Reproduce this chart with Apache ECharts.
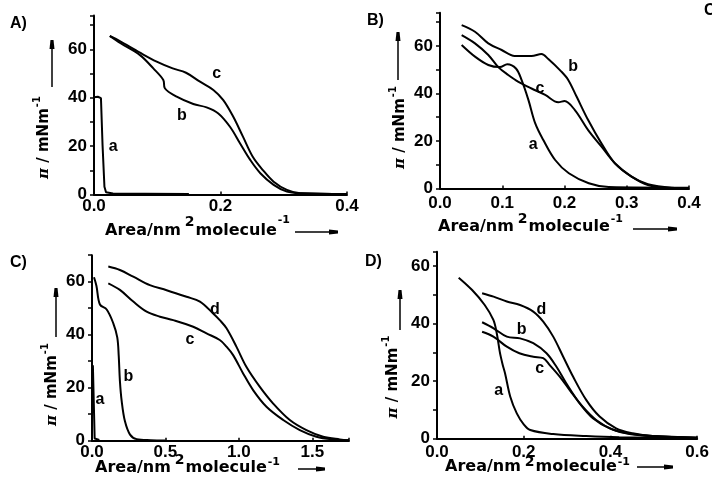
<!DOCTYPE html>
<html><head><meta charset="utf-8">
<script src="https://cdn.jsdelivr.net/npm/echarts@6/dist/echarts.min.js"></script>
<style>html,body{margin:0;padding:0;background:#fff}#c{width:712px;height:483px}</style>
</head><body><div id="c"></div>
<script>
// ---------- Panel A ----------
const A_xTickLabels = ['0.0', '0.2', '0.4'];
const A_yTickLabels = ['0', '20', '40', '60'];
const A_a = [[0.0, 40.2], [0.006, 40.4], [0.011, 39.8], [0.0135, 20.5], [0.0165, 3.2], [0.019, 0.9], [0.03, 0.4], [0.08, 0.3], [0.15, 0.2]];
const A_b = [[0.025, 65.5], [0.042, 62.5], [0.0727, 57.6], [0.0938, 52.1], [0.1096, 47.3], [0.112, 43.9], [0.1307, 40.4], [0.157, 37.4], [0.178, 36.0], [0.1966, 33.5], [0.215, 28.0], [0.231, 21.1], [0.247, 14.3], [0.263, 8.8], [0.284, 4.0], [0.305, 1.2], [0.326, 0.5], [0.4, 0.2]];
const A_c = [[0.025, 65.5], [0.0395, 63.6], [0.0727, 58.6], [0.0991, 54.9], [0.1244, 52.1], [0.1455, 50.3], [0.1676, 46.6], [0.1887, 43.2], [0.2044, 39.0], [0.22, 32.2], [0.2355, 23.9], [0.251, 15.6], [0.267, 10.1], [0.284, 5.3], [0.305, 1.9], [0.326, 0.5], [0.4, 0.2]];
const A_labels = [['a', 0.0305, 19.7], ['b', 0.139, 32.8], ['c', 0.194, 50]];

// ---------- Panel B ----------
const B_xTickLabels = ['0.0', '0.1', '0.2', '0.3', '0.4'];
const B_yTickLabels = ['0', '20', '40', '60'];
const B_a = [[0.0348, 60.4], [0.0562, 55.5], [0.0776, 52.0], [0.0963, 51.1], [0.108, 52.3], [0.122, 50.5], [0.131, 45.7], [0.142, 37.3], [0.153, 27.4], [0.166, 20.4], [0.185, 12.0], [0.207, 6.4], [0.239, 2.2], [0.271, 0.6], [0.4, 0.3]];
const B_b = [[0.0348, 68.8], [0.0562, 66.0], [0.0776, 61.1], [0.099, 58.3], [0.12, 55.8], [0.147, 55.8], [0.163, 56.6], [0.174, 54.5], [0.195, 49.2], [0.206, 45.7], [0.2194, 38.7], [0.238, 28.8], [0.2595, 18.9], [0.281, 10.6], [0.3077, 5.0], [0.334, 1.8], [0.372, 0.3], [0.4, 0.1]];
const B_c = [[0.0348, 64.6], [0.0562, 61.1], [0.0776, 56.2], [0.0936, 51.1], [0.1096, 47.8], [0.126, 44.9], [0.147, 42.1], [0.169, 39.4], [0.19, 36.3], [0.2, 36.8], [0.2167, 33.0], [0.238, 24.6], [0.2595, 17.6], [0.281, 10.6], [0.3077, 5.0], [0.334, 1.5], [0.372, 0.2], [0.4, 0.1]];
const B_labels = [['b', 0.214, 51.3], ['c', 0.1605, 42.2], ['a', 0.1498, 18.3]];

// ---------- Panel C ----------
const C_xTickLabels = ['0.0', '0.5', '1.0', '1.5'];
const C_yTickLabels = ['0', '20', '40', '60'];
const C_a = [[0.006, 28.5], [0.012, 28], [0.015, 8], [0.018, 0.8], [0.05, 0.3]];
const C_b = [[0.0136, 61.7], [0.03, 58.5], [0.054, 51.4], [0.1, 49.5], [0.145, 44.3], [0.172, 39], [0.182, 32], [0.19, 22.6], [0.202, 15], [0.224, 7.4], [0.259, 2.3], [0.304, 0.6], [0.4, 0.2], [0.5, 0.1]];
const C_c = [[0.111, 59.4], [0.19, 56.9], [0.281, 52.5], [0.372, 48.7], [0.463, 46.8], [0.553, 45.5], [0.689, 43.0], [0.78, 40.5], [0.87, 38.0], [0.916, 35.5], [0.961, 32.3], [1.029, 25.4], [1.097, 19.1], [1.188, 12.8], [1.302, 7.8], [1.415, 4.0], [1.528, 1.5], [1.64, 0.5], [1.75, 0.2]];
const C_d = [[0.111, 65.7], [0.19, 64.4], [0.281, 61.9], [0.394, 58.7], [0.508, 56.8], [0.644, 54.3], [0.735, 52.5], [0.825, 48.0], [0.87, 45.5], [0.916, 42.4], [0.984, 35.4], [1.052, 27.8], [1.143, 20.3], [1.234, 14], [1.347, 7.8], [1.46, 4.0], [1.574, 1.5], [1.687, 0.5], [1.75, 0.2]];
const C_labels = [['d', 0.837, 49.3], ['c', 0.667, 38], ['b', 0.247, 24.2], ['a', 0.054, 15.4]];

// ---------- Panel D ----------
const D_xTickLabels = ['0.0', '0.2', '0.4', '0.6'];
const D_yTickLabels = ['0', '20', '40', '60'];
const D_a = [[0.05, 56], [0.081, 51.7], [0.11, 46.5], [0.13, 41.3], [0.138, 36.5], [0.145, 30], [0.151, 26], [0.157, 22.7], [0.169, 14.6], [0.184, 8.8], [0.2, 5], [0.215, 3.0], [0.268, 1.6], [0.344, 0.9], [0.42, 0.5], [0.6, 0.2]];
const D_b = [[0.104, 40.5], [0.1305, 38.4], [0.161, 35.5], [0.1916, 34.9], [0.222, 33.2], [0.2526, 29.7], [0.2755, 25.0], [0.298, 19.3], [0.329, 12.3], [0.3595, 7.1], [0.398, 3.6], [0.444, 1.6], [0.497, 0.9], [0.6, 0.3]];
const D_c = [[0.104, 37.2], [0.13, 35.5], [0.161, 32.0], [0.19, 29.7], [0.222, 28.5], [0.245, 28.0], [0.26, 25.6], [0.283, 21.6], [0.306, 16.9], [0.336, 11.1], [0.367, 6.5], [0.405, 3.2], [0.451, 1.6], [0.497, 0.9], [0.6, 0.3]];
const D_d = [[0.104, 50.6], [0.1305, 49.4], [0.161, 47.7], [0.1916, 46.5], [0.222, 44.2], [0.245, 40.7], [0.268, 35.5], [0.291, 28.5], [0.3137, 21.6], [0.344, 13.5], [0.375, 7.7], [0.413, 3.6], [0.451, 1.9], [0.497, 0.9], [0.6, 0.3]];
const D_labels = [['d', 0.241, 44.8], ['b', 0.195, 37.8], ['c', 0.237, 24.5], ['a', 0.142, 16.9]];

const panels = [
  {grid: {left: 94, top: 15.4, width: 253, height: 179.1}, xMax: 0.4, xInt: 0.2, yMax: 74, xl: A_xTickLabels, yl: A_yTickLabels, xm: 3, curves: [A_a, A_b, A_c], sharp: [true, false, false], labels: A_labels},
  {grid: {left: 440, top: 12.7, width: 249, height: 175.8}, xMax: 0.4, xInt: 0.1, yMax: 74, xl: B_xTickLabels, yl: B_yTickLabels, xm: 6, curves: [B_a, B_b, B_c], sharp: [false, false, false], labels: B_labels},
  {grid: {left: 92, top: 255.2, width: 257, height: 185.5}, xMax: 1.75, xInt: 0.5, yMax: 70, xl: C_xTickLabels, yl: C_yTickLabels, xm: 3, curves: [C_a, C_b, C_c, C_d], sharp: [true, false, false, false], labels: C_labels},
  {grid: {left: 437, top: 251.8, width: 263, height: 186.9}, xMax: 0.6, xInt: 0.2, yMax: 65, xl: D_xTickLabels, yl: D_yTickLabels, xm: 5, curves: [D_a, D_b, D_c, D_d], sharp: [false, false, false, false], labels: D_labels}
];

const TICK_FONT = 'Liberation Sans';
const grids = [], xAxes = [], yAxes = [], series = [];
panels.forEach((p, i) => {
  grids.push(Object.assign({containLabel: false}, p.grid));
  xAxes.push({
    type: 'value', gridIndex: i, min: 0, max: p.xMax, interval: p.xInt,
    axisLine: {show: true, onZero: false, lineStyle: {color: '#000', width: 2}},
    axisTick: {show: true, inside: true, length: 3, lineStyle: {color: '#000', width: 1.5}},
    splitLine: {show: false},
    axisLabel: {show: true, margin: p.xm, color: '#000', fontFamily: TICK_FONT, fontWeight: 'bold', fontSize: 17,
      formatter: v => { const s = v.toFixed(1); return p.xl.includes(s) ? s : ''; }}
  });
  yAxes.push({
    type: 'value', gridIndex: i, min: 0, max: p.yMax, interval: 10,
    axisLine: {show: true, onZero: false, lineStyle: {color: '#000', width: 2}},
    axisTick: {show: true, inside: false, length: 4, lineStyle: {color: '#000', width: 1.5}},
    splitLine: {show: false},
    axisLabel: {show: true, margin: 7, color: '#000', fontFamily: TICK_FONT, fontWeight: 'bold', fontSize: 17,
      formatter: v => { const s = String(Math.round(v)); return (Math.abs(v - Math.round(v)) < 1e-6 && p.yl.includes(s)) ? s : ''; }}
  });
  p.curves.forEach((c, k) => {
    series.push({type: 'line', xAxisIndex: i, yAxisIndex: i, data: c, showSymbol: false, symbol: 'none',
      smooth: p.sharp[k] ? false : 0.35, lineStyle: {color: '#000', width: 2}, silent: true, animation: false});
  });
  series.push({type: 'scatter', xAxisIndex: i, yAxisIndex: i, symbolSize: 1, itemStyle: {color: '#fff', opacity: 0},
    data: p.labels.map(l => ({name: l[0], value: [l[1], l[2]]})),
    label: {show: true, position: 'inside', formatter: '{b}', color: '#000', opacity: 1, textBorderWidth: 0,
      fontFamily: TICK_FONT, fontWeight: 'bold', fontSize: 16},
    animation: false, silent: true, z: 5});
});

// text measuring for composed titles
const mctx = document.createElement('canvas').getContext('2d');
function tw(font, s) { mctx.font = font; return mctx.measureText(s).width; }
const XT = '"DejaVu Sans"';
const fMain = 'bold 16px ' + XT, fSup = 'bold 14px ' + XT, fSup2 = 'bold 11px ' + XT;
const graphic = [];
function xTitle(left, midY, r2, r1) {
  const parts = [['Area/nm', fMain, 0, 0], ['2', fSup, r2, 4], ['molecule', fMain, 0, 1], ['-1', fSup2, r1, 1]];
  let x = left;
  parts.forEach(pt => {
    x += pt[3];
    graphic.push({type: 'text', silent: true, z: 10,
      style: {x: x, y: midY + pt[2], text: pt[0], font: pt[1], fill: '#000', align: 'left', verticalAlign: 'middle'}});
    x += tw(pt[1], pt[0]);
  });
}
const fPi = 'italic bold 15px "DejaVu Serif"', fY = 'bold 15px ' + XT, fYs = 'bold 10px ' + XT;
function yTitle(cx, cy) {
  const parts = [['π', fPi, 0, 0], [' / mNm', fY, 0, 0], ['-1', fYs, -7, 1]];
  let w = 0; parts.forEach(pt => { w += pt[3] + tw(pt[1], pt[0]); });
  let x = -w / 2;
  parts.forEach(pt => {
    x += pt[3];
    graphic.push({type: 'text', x: cx, y: cy, rotation: Math.PI / 2, silent: true, z: 10,
      style: {x: x, y: pt[2], text: pt[0], font: pt[1], fill: '#000', align: 'left', verticalAlign: 'middle'}});
    x += tw(pt[1], pt[0]);
  });
}

// layout of decorations: [xTitleLeft, xTitleMidY, supRaise2, supRaise-1, xArrowX1, xArrowX2, xArrowY, yTitleCx, yTitleCy, yArrowX, yArrowY1, yArrowY2, letterX, letterY, letter]
const deco = [
  [105, 231, -9, -11, 295, 338, 232, 44, 137.5, 52, 87, 40, 10, 16, 'A)'],
  [438, 226.5, -7, -7, 633, 677, 229, 400, 127.5, 398, 80, 32, 367, 13, 'B)'],
  [95, 467.5, -7, -5, 298, 325, 469, 52.5, 384.5, 56, 337, 288, 10, 255, 'C)'],
  [445, 467, -5, -5, 637, 673, 467, 393.5, 377, 400, 330, 290, 365, 254, 'D)']
];
deco.forEach(d => {
  xTitle(d[0], d[1], d[2], d[3]);
  graphic.push({type: 'line', silent: true, shape: {x1: d[4], y1: d[6], x2: d[5] - 6, y2: d[6]}, style: {stroke: '#000', lineWidth: 1.5}});
  graphic.push({type: 'polygon', silent: true, shape: {points: [[d[5] - 9, d[6] - 2.5], [d[5], d[6] - 1.5], [d[5], d[6] + 1.5], [d[5] - 9, d[6] + 2.5]]}, style: {fill: '#000'}});
  yTitle(d[7], d[8]);
  graphic.push({type: 'line', silent: true, shape: {x1: d[9], y1: d[10], x2: d[9], y2: d[11] + 6}, style: {stroke: '#000', lineWidth: 1.5}});
  graphic.push({type: 'polygon', silent: true, shape: {points: [[d[9] - 2.5, d[11] + 9], [d[9] - 1.5, d[11]], [d[9] + 1.5, d[11]], [d[9] + 2.5, d[11] + 9]]}, style: {fill: '#000'}});
  graphic.push({type: 'text', silent: true,
    style: {x: d[12], y: d[13], text: d[14], font: 'bold 16px "Liberation Sans"', fill: '#000', align: 'left', verticalAlign: 'top'}});
});
graphic.push({type: 'text', silent: true,
  style: {x: 704, y: 3, text: 'C', font: 'bold 16px "Liberation Sans"', fill: '#000', align: 'left', verticalAlign: 'top'}});

const chart = echarts.init(document.getElementById('c'), null, {renderer: 'canvas'});
chart.setOption({backgroundColor: '#fff', animation: false, grid: grids, xAxis: xAxes, yAxis: yAxes, series: series, graphic: graphic});
</script></body></html>
